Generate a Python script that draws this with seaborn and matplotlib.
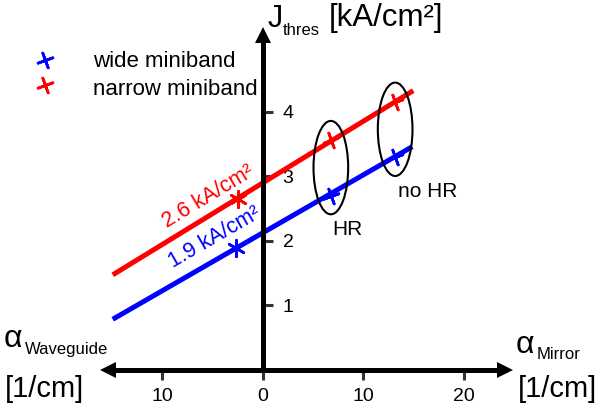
import numpy as np
import pandas as pd
import matplotlib
matplotlib.use("Agg")
import matplotlib.pyplot as plt
from matplotlib.patches import Ellipse
import seaborn as sns

# ---------------- data ----------------
mirror_loss = [6.8, 13.2]            # alpha_mirror [1/cm]: HR, no HR
wide_jth = [2.70, 3.30]              # J_thres [kA/cm^2], wide miniband
narrow_jth = [3.57, 4.16]            # J_thres [kA/cm^2], narrow miniband
wide_fit_x = [-14.9, 14.9]
wide_fit_y = [0.78, 3.46]
narrow_fit_x = [-14.9, 15.0]
narrow_fit_y = [1.47, 4.33]
wide_intercept = ([-2.6], [1.89])
narrow_intercept = ([-2.4], [2.65])
x_ticks = [-10, 0, 10, 20]
x_tick_labels = ["10", "0", "10", "20"]
y_ticks = [1, 2, 3, 4]
y_tick_labels = ["1", "2", "3", "4"]

sns.set_style("white")
plt.rcParams["font.family"] = ["Liberation Sans", "DejaVu Sans"]
plt.rcParams["text.color"] = "black"
plt.rcParams["xtick.color"] = "black"
plt.rcParams["ytick.color"] = "black"

W, H = 600, 409
fig = plt.figure(figsize=(6, 4.09), dpi=100)
ax = fig.add_axes([0, 0, 1, 1])

# pixel -> data mapping (layout)
X0PX, Y0PX, SX, SY = 262.5, 369.5, 10.05, 64.4
def P(px, py):
    return (px - X0PX) / SX, (Y0PX - py) / SY

ax.set_xlim(P(0, 0)[0], P(W, 0)[0])
ax.set_ylim(P(0, H)[1], P(0, 0)[1])
ax.set_facecolor("white")

BLUE, RED = "#0000ff", "#ff0000"

# fit lines
sns.lineplot(x=wide_fit_x, y=wide_fit_y, color=BLUE, lw=3.6, ax=ax,
             solid_capstyle="butt", zorder=2)
sns.lineplot(x=narrow_fit_x, y=narrow_fit_y, color=RED, lw=3.6, ax=ax,
             solid_capstyle="butt", zorder=2)

# measured points
cross = (4, 2, 20)
sns.scatterplot(x=mirror_loss, y=wide_jth, marker=cross, s=130, color=BLUE,
                linewidth=1.9, ax=ax, zorder=3)
sns.scatterplot(x=mirror_loss, y=narrow_jth, marker=cross, s=130, color=RED,
                linewidth=1.9, ax=ax, zorder=3)
# intercepts
star = (6, 2, 0)
sns.scatterplot(x=wide_intercept[0], y=wide_intercept[1], marker=star, s=140,
                color=BLUE, linewidth=1.9, ax=ax, zorder=3)
sns.scatterplot(x=narrow_intercept[0], y=narrow_intercept[1], marker=star, s=140,
                color=RED, linewidth=1.9, ax=ax, zorder=3)

# ellipses around HR / no HR pairs
for xm, lo, hi in zip(mirror_loss, wide_jth, narrow_jth):
    cy = (lo + hi) / 2
    ax.add_patch(Ellipse((xm, cy), width=3.45, height=1.45, fill=False,
                         ec="black", lw=1.5, zorder=3))

# axes through origin
for s in ["left", "top"]:
    ax.spines[s].set_visible(False)
xl, _ = P(108, 0)
xr, _ = P(505, 0)
_, yt = P(0, 35)
ax.spines["bottom"].set_position(("data", 0))
ax.spines["bottom"].set_bounds(xl, xr)
ax.spines["right"].set_position(("data", 0))
ax.spines["right"].set_bounds(0, yt)
for s in ["bottom", "right"]:
    ax.spines[s].set_linewidth(3.6)
    ax.spines[s].set_color("black")
    ax.spines[s].set_zorder(4)
ax.yaxis.tick_right()
ax.set_xticks(x_ticks, x_tick_labels)
ax.set_yticks(y_ticks, y_tick_labels)
ax.tick_params(axis="x", direction="out", length=7.5, width=2.2, color="#333333",
               labelcolor="black", pad=6, labelsize=14, bottom=True)
ax.tick_params(axis="y", direction="out", length=7.5, width=2.2, color="#333333",
               labelcolor="black", pad=7, labelsize=14, right=True, left=False)

# arrow heads
ax.plot([xl], [0], marker="<", ms=11.5, mew=0, color="black", clip_on=False, zorder=5)
ax.plot([xr], [0], marker=">", ms=11.5, mew=0, color="black", clip_on=False, zorder=5)
ax.plot([0], [yt], marker="^", ms=11.5, mew=0, color="black", clip_on=False, zorder=5)

def T(px, py, s, **kw):
    x, y = P(px, py)
    kw.setdefault("ha", "left")
    kw.setdefault("va", "baseline")
    kw.setdefault("color", "black")
    ax.text(x, y, s, **kw)

# axis titles
T(268, 27, "J", fontsize=22)
T(283, 35, "thres", fontsize=12)
T(329, 26, "[kA/cm²]", fontsize=22.5)
T(4, 347, "α", fontsize=23)
T(25, 354, "Waveguide", fontsize=12)
T(5, 397, "[1/cm]", fontsize=21)
T(516, 353, "α", fontsize=23)
T(537, 359, "Mirror", fontsize=12)
T(518, 397, "[1/cm]", fontsize=21)

# annotations
T(332, 235, "HR", fontsize=15)
T(398, 197, "no HR", fontsize=15)
T(208.5, 196.5, "2.6 kA/cm²", fontsize=15.5, color=RED, rotation=31,
  rotation_mode="anchor", ha="center", va="center")
T(215, 237.5, "1.9 kA/cm²", fontsize=15.5, color=BLUE, rotation=30,
  rotation_mode="anchor", ha="center", va="center")

# legend
lx, ly1 = P(45, 60)
_, ly2 = P(45, 85)
sns.scatterplot(x=[lx], y=[ly1], marker=cross, s=130, color=BLUE, linewidth=1.9,
                ax=ax, clip_on=False)
sns.scatterplot(x=[lx], y=[ly2], marker=cross, s=130, color=RED, linewidth=1.9,
                ax=ax, clip_on=False)
T(93, 67, "wide miniband", fontsize=16)
T(93, 95, "narrow miniband", fontsize=16)

ax.set_xlabel("")
ax.set_ylabel("")
fig.savefig("out.png", dpi=100)
